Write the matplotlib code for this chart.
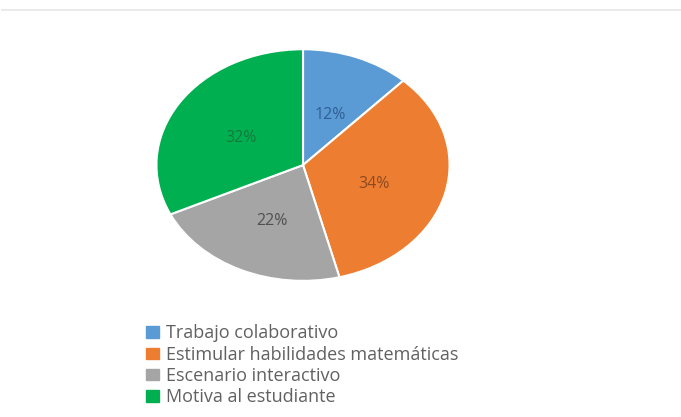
import matplotlib
matplotlib.use("Agg")
import matplotlib.pyplot as plt
from matplotlib.lines import Line2D

categories = ["Trabajo colaborativo", "Estimular habilidades matemáticas",
              "Escenario interactivo", "Motiva al estudiante"]
values = [12, 34, 22, 32]
colors = ["#5B9BD5", "#ED7D31", "#A5A5A5", "#00B050"]
label_colors = ["#2F5F95", "#8C4A20", "#505050", "#157A3C"]

plt.rcParams['font.family'] = ['Open Sans', 'DejaVu Sans']

fig = plt.figure(figsize=(6.81, 4.17), dpi=100)
fig.patch.set_facecolor("white")

# faint top rule
fig.add_artist(Line2D([0.003, 1.0], [0.977, 0.977], color="#e6e6e6", lw=1.2))

ax = fig.add_axes([0.2276, 0.3237, 0.4347, 0.561])
wedges, texts, autotexts = ax.pie(
    values, colors=colors, startangle=90, counterclock=False,
    autopct=lambda p: f"{p:.0f}%", pctdistance=0.5,
    wedgeprops=dict(edgecolor="white", linewidth=1.5),
    textprops=dict(fontsize=11.5))
for t, c in zip(autotexts, label_colors):
    t.set_color(c)
    x, y = t.get_position()
    t.set_position((x, y - 0.035))
ax.set_aspect("auto")
ax.set_xlim(-1.01, 1.01)
ax.set_ylim(-1.01, 1.01)
ax.axis("off")

handles = [plt.Rectangle((0, 0), 1, 1, color=c) for c in colors]
fig.legend(handles, categories, loc="upper left", bbox_to_anchor=(0.215, 0.222),
           frameon=False, fontsize=13, labelcolor="#616161",
           handlelength=0.7, handleheight=0.6, handletextpad=0.4,
           labelspacing=0.18, borderaxespad=0, borderpad=0)

fig.savefig("out.png", dpi=100, facecolor="white")
